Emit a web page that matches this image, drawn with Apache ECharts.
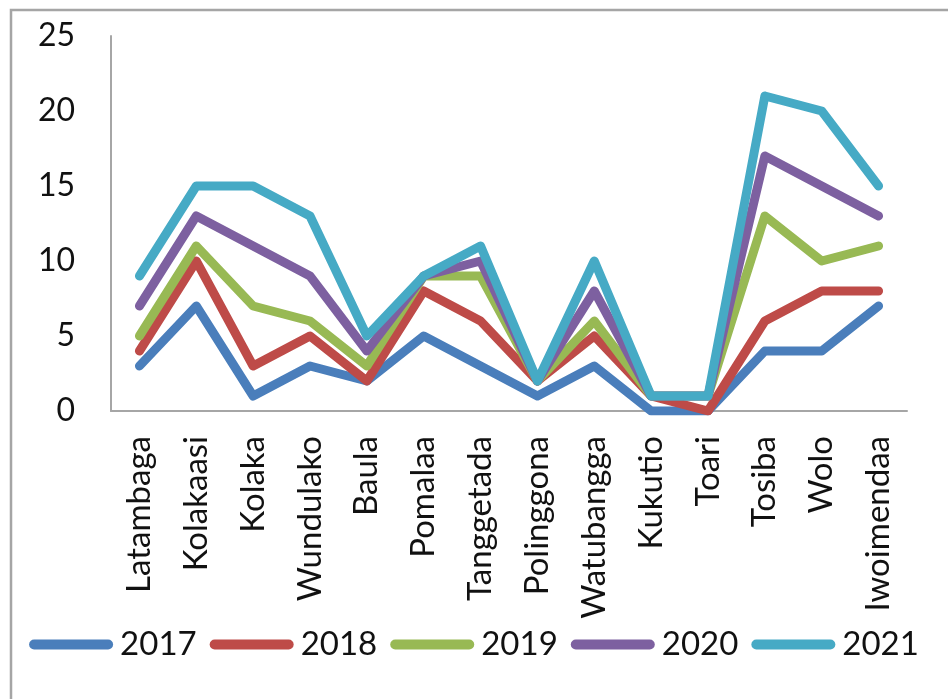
<!DOCTYPE html>
<html>
<head>
<meta charset="utf-8">
<script src="https://cdn.jsdelivr.net/npm/echarts@6/dist/echarts.min.js"></script>
<style>
  html, body { margin: 0; padding: 0; background: #ffffff; }
  #chart { width: 948px; height: 699px; }
</style>
</head>
<body>
<div id="chart"></div>
<script>
// Villages along the x axis
const categories = ['Latambaga', 'Kolakaasi', 'Kolaka', 'Wundulako', 'Baula', 'Pomalaa', 'Tanggetada',
  'Polinggona', 'Watubangga', 'Kukutio', 'Toari', 'Tosiba', 'Wolo', 'Iwoimendaa'];

// Yearly values per village
const years = ['2017', '2018', '2019', '2020', '2021'];
const v2017 = [3, 7, 1, 3, 2, 5, 3, 1, 3, 0, 0, 4, 4, 7];
const v2018 = [4, 10, 3, 5, 2, 8, 6, 2, 5, 1, 0, 6, 8, 8];
const v2019 = [5, 11, 7, 6, 3, 9, 9, 2, 6, 1, 1, 13, 10, 11];
const v2020 = [7, 13, 11, 9, 4, 9, 10, 2, 8, 1, 1, 17, 15, 13];
const v2021 = [9, 15, 15, 13, 5, 9, 11, 2, 10, 1, 1, 21, 20, 15];

// y axis ticks
const yTicks = [0, 5, 10, 15, 20, 25];

const colors = ['#4A7EBB', '#BE4B48', '#98B954', '#7D60A0', '#46AAC5'];
const values = [v2017, v2018, v2019, v2020, v2021];
const FONT = 'Lato, "Open Sans", sans-serif';

const chart = echarts.init(document.getElementById('chart'), null, { renderer: 'canvas' });

chart.setOption({
  animation: false,
  backgroundColor: '#ffffff',
  color: colors,
  graphic: [{
    type: 'rect',
    silent: true,
    shape: { x: 11, y: 10, width: 2000, height: 2000 },
    style: { fill: 'none', stroke: '#A5A5A5', lineWidth: 2.5 },
    z: 0
  }],
  grid: { left: 111, right: 41, top: 36, bottom: 288, containLabel: false },
  legend: {
    bottom: 33,
    left: 'center',
    itemWidth: 84,
    itemHeight: 10,
    itemGap: 13,
    icon: 'path://M5,0 H79 A5,5 0 0 1 79,10 H5 A5,5 0 0 1 5,0 Z',
    textStyle: { fontFamily: FONT, fontSize: 33, color: '#111111', padding: [0, 0, 0, 2] },
    data: years
  },
  xAxis: {
    type: 'category',
    data: categories,
    boundaryGap: true,
    axisLine: { lineStyle: { color: '#A6A6A6', width: 2 } },
    axisTick: { show: false },
    axisLabel: {
      rotate: 90,
      margin: 25,
      interval: 0,
      fontFamily: FONT,
      fontSize: 33,
      color: '#111111'
    },
    splitLine: { show: false }
  },
  yAxis: {
    type: 'value',
    min: yTicks[0],
    max: yTicks[yTicks.length - 1],
    interval: yTicks[1] - yTicks[0],
    axisLine: { show: true, lineStyle: { color: '#A6A6A6', width: 2 } },
    axisTick: { show: false },
    splitLine: { show: false },
    axisLabel: {
      margin: 36,
      fontFamily: FONT,
      fontSize: 32,
      color: '#111111'
    }
  },
  series: years.map((y, i) => ({
    name: y,
    type: 'line',
    data: values[i],
    symbol: 'none',
    z: 2 + i,
    lineStyle: { width: 9, color: colors[i], cap: 'round', join: 'round' },
    itemStyle: { color: colors[i] }
  }))
});
</script>
</body>
</html>
